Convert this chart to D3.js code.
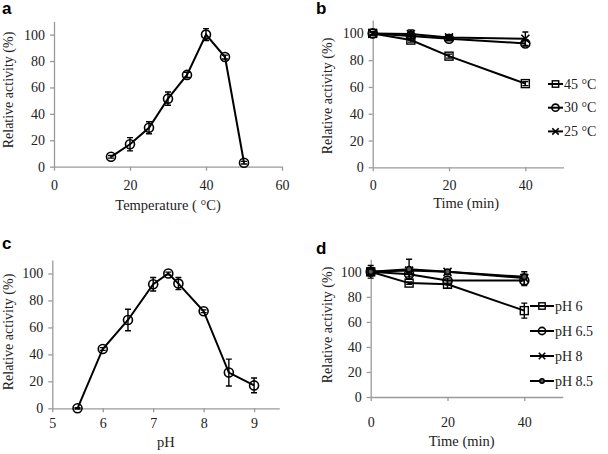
<!DOCTYPE html>
<html><head><meta charset="utf-8">
<script src="https://cdn.jsdelivr.net/npm/d3@7"></script>
<style>
body{margin:0;background:#fff;}
svg{display:block;}
</style></head><body>
<svg id="c" width="608" height="454"></svg>
<script>
// Panel a: temperature profile
const tempX = [15, 20, 25, 30, 35, 40, 45, 50];
const tempY = [7.5, 17, 29.5, 51.5, 69.5, 100, 83, 3];
const tempErr = [1, 5, 4.5, 5, 2, 4.5, 1.5, 1];
const tempTicksX = [0, 20, 40, 60];

// Panel b: thermal stability
const timeB = [0, 10, 20, 40];
const b45 = [100, 95, 83, 62.5];
const b45Err = [1, 1.5, 1.5, 1.5];
const b30 = [100, 98, 96, 92.5];
const b30Err = [1, 2, 1.5, 2];
const b25 = [100, 99.5, 97, 96];
const b25Err = [1, 3, 1.5, 5];
const timeTicks = [0, 20, 40];
const bLegend = ["45 °C", "30 °C", "25 °C"];

// Panel c: pH profile
const phX = [5.5, 6, 6.5, 7, 7.3, 7.5, 8, 8.5, 9];
const phY = [0, 44, 65.5, 92, 100, 92.5, 72, 26.5, 17];
const phErr = [0.5, 1, 8, 5, 1, 4.5, 1, 10, 5.5];
const phTicksX = [5, 6, 7, 8, 9];

// Panel d: pH stability
const timeD = [0, 10, 20, 40];
const d6 = [100, 91, 90, 69];
const d6Err = [5, 1, 3, 6];
const d65 = [100, 98, 93, 93];
const d65Err = [2, 2, 2, 4];
const d8 = [100, 101, 100, 95];
const d8Err = [2, 2, 1.5, 5];
const d85 = [100, 102, 100, 96];
const d85Err = [1, 8, 1, 2];
const dLegend = ["pH 6", "pH 6.5", "pH 8", "pH 8.5"];

const yTicks = [0, 20, 40, 60, 80, 100];

const SERIF = '"Liberation Serif", "Times New Roman", serif';
const SANS = '"Liberation Sans", Arial, sans-serif';
const svg = d3.select("#c");
const AX = "#9a9a9a";

function marker(g, type, x, y, k) {
  k = k || 1;
  if (type === "circle") {
    g.append("circle").attr("cx", x).attr("cy", y).attr("r", 4.5 * k)
      .attr("fill", "none").attr("stroke", "#000").attr("stroke-width", 1.6);
  } else if (type === "small") {
    g.append("circle").attr("cx", x).attr("cy", y).attr("r", 2.8 * k)
      .attr("fill", "#555").attr("stroke", "#000").attr("stroke-width", 1.5);
  } else if (type === "square") {
    const s = 4 * k;
    g.append("rect").attr("x", x - s).attr("y", y - s).attr("width", 2 * s).attr("height", 2 * s)
      .attr("fill", "none").attr("stroke", "#000").attr("stroke-width", 1.4);
  } else if (type === "x") {
    const s = 4 * k;
    g.append("path").attr("d", `M${x - s},${y - s}L${x + s},${y + s}M${x - s},${y + s}L${x + s},${y - s}`)
      .attr("stroke", "#000").attr("stroke-width", 1.6).attr("fill", "none");
  }
}

function txt(g) {
  return g.append("text").style("font-family", SERIF).style("fill", "#222");
}

function panel(cfg) {
  const g = svg.append("g");
  const x = d3.scaleLinear().domain(cfg.xDomain).range(cfg.xRange);
  const y = d3.scaleLinear().domain([0, 110]).range(cfg.yRange);
  const xa = g.append("g").attr("transform", `translate(0,${cfg.yRange[0]})`)
    .call(d3.axisBottom(x).tickValues(cfg.xTicks).tickFormat(d => String(d)).tickSize(4).tickSizeOuter(0).tickPadding(cfg.xPad));
  const ya = g.append("g").attr("transform", `translate(${cfg.xRange[0]},0)`)
    .call(d3.axisLeft(y).tickValues(yTicks).tickFormat(d => String(d)).tickSize(4).tickSizeOuter(0).tickPadding(5));
  [xa, ya].forEach(a => {
    a.select(".domain").attr("stroke", AX).attr("stroke-width", 1.3);
    a.selectAll(".tick line").attr("stroke", AX).attr("stroke-width", 1.3);
    a.selectAll(".tick text").style("font-size", "14px").style("font-family", SERIF).style("fill", "#222");
  });
  txt(g).attr("x", d3.mean(cfg.xRange) + (cfg.xTitleDx || 0)).attr("y", cfg.xTitleY).attr("text-anchor", "middle")
    .style("font-size", "14.5px").text(cfg.xTitle);
  txt(g).attr("transform", `translate(${cfg.yTitleX},${cfg.yTitleY}) rotate(-90)`)
    .attr("text-anchor", "middle").style("font-size", "14px").text("Relative activity (%)");
  g.append("text").attr("x", cfg.lab[0]).attr("y", cfg.lab[1])
    .style("font-family", SANS).style("font-weight", "bold").style("font-size", "17px").style("fill", "#000").text(cfg.label);
  const line = d3.line().x(d => x(d[0])).y(d => y(d[1]));
  cfg.series.forEach(s => {
    const pts = s.xs.map((v, i) => [v, s.ys[i], s.err[i]]);
    g.append("path").attr("d", line(pts)).attr("fill", "none").attr("stroke", "#000").attr("stroke-width", 2);
    pts.forEach(p => {
      const cx = x(p[0]), t = y(p[1] + p[2]), b = y(p[1] - p[2]);
      g.append("path").attr("d", `M${cx},${t}L${cx},${b}M${cx - 3},${t}L${cx + 3},${t}M${cx - 3},${b}L${cx + 3},${b}`)
        .attr("stroke", "#000").attr("stroke-width", 1.4).attr("fill", "none");
      marker(g, s.marker, cx, y(p[1]));
    });
  });
  if (cfg.legend) {
    const L = cfg.legend;
    cfg.series.forEach((s, i) => {
      const ly = L.y0 + i * L.dy;
      g.append("line").attr("x1", L.x1).attr("x2", L.x2).attr("y1", ly).attr("y2", ly)
        .attr("stroke", "#000").attr("stroke-width", 2);
      marker(g, s.marker, (L.x1 + L.x2) / 2, ly, 0.8);
      txt(g).attr("x", L.x2 + 1).attr("y", ly + 4.5).style("font-size", "14px").text(L.names[i]);
    });
  }
}

panel({
  label: "a", lab: [2, 14],
  xDomain: [0, 60], xRange: [54, 282], yRange: [166.7, 21.4], xTicks: tempTicksX, xPad: 9,
  xTitle: "Temperature ( °C)", xTitleY: 210, yTitleX: 13, yTitleY: 90,
  series: [{xs: tempX, ys: tempY, err: tempErr, marker: "circle"}]
});
panel({
  label: "b", lab: [316, 13.5],
  xDomain: [0, 50], xRange: [372.7, 563.5], yRange: [167.3, 20], xTicks: timeTicks, xPad: 9,
  xTitle: "Time (min)", xTitleY: 208, xTitleDx: -2, yTitleX: 332, yTitleY: 96,
  series: [
    {xs: timeB, ys: b45, err: b45Err, marker: "square"},
    {xs: timeB, ys: b30, err: b30Err, marker: "circle"},
    {xs: timeB, ys: b25, err: b25Err, marker: "x"}
  ],
  legend: {x1: 548, x2: 563, y0: 84, dy: 23.7, names: bLegend}
});
panel({
  label: "c", lab: [2, 248.5],
  xDomain: [5, 9.5], xRange: [52.3, 279.3], yRange: [408.3, 260], xTicks: phTicksX, xPad: 6,
  xTitle: "pH", xTitleY: 447, yTitleX: 13, yTitleY: 332,
  series: [{xs: phX, ys: phY, err: phErr, marker: "circle"}]
});
panel({
  label: "d", lab: [316, 253.5],
  xDomain: [0, 50], xRange: [370.7, 562.7], yRange: [397, 259.3], xTicks: timeTicks, xPad: 16,
  xTitle: "Time (min)", xTitleY: 446, xTitleDx: -5, yTitleX: 332, yTitleY: 325,
  series: [
    {xs: timeD, ys: d6, err: d6Err, marker: "square"},
    {xs: timeD, ys: d65, err: d65Err, marker: "circle"},
    {xs: timeD, ys: d8, err: d8Err, marker: "x"},
    {xs: timeD, ys: d85, err: d85Err, marker: "small"}
  ],
  legend: {x1: 530, x2: 554, y0: 306, dy: 25, names: dLegend}
});
</script>
</body></html>
